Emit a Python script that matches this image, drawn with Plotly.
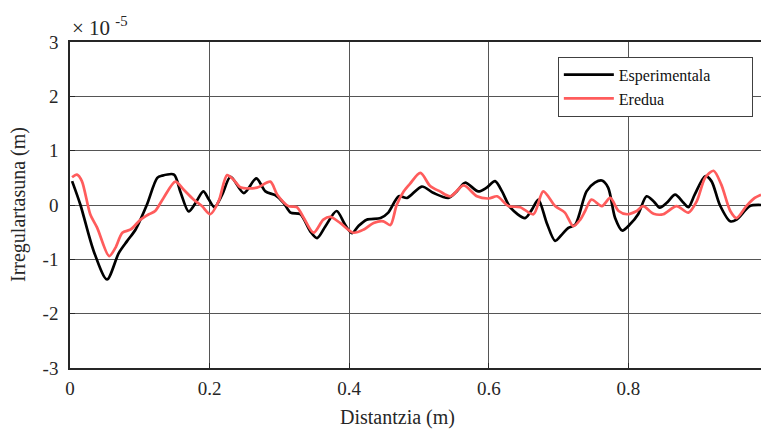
import plotly.graph_objects as go

# values in units of 1e-5 m
x_exp = [0.003, 0.015, 0.034, 0.053, 0.070, 0.082, 0.094, 0.110, 0.125, 0.132, 0.149, 0.158, 0.170, 0.180,
         0.191, 0.199, 0.207, 0.218, 0.230, 0.249, 0.267, 0.280, 0.294, 0.306, 0.316, 0.330, 0.344, 0.354,
         0.366, 0.382, 0.394, 0.404, 0.413, 0.425, 0.445, 0.456, 0.471, 0.483, 0.504, 0.521, 0.542, 0.554,
         0.566, 0.585, 0.597, 0.609, 0.619, 0.631, 0.652, 0.662, 0.671, 0.683, 0.695, 0.705, 0.714, 0.724,
         0.740, 0.752, 0.762, 0.771, 0.781, 0.791, 0.802, 0.814, 0.826, 0.836, 0.845, 0.855, 0.867, 0.879,
         0.886, 0.895, 0.910, 0.919, 0.931, 0.946, 0.955, 0.974, 0.990]
y_exp = [0.44, 0.00, -0.85, -1.37, -0.88, -0.66, -0.45, 0.00, 0.50, 0.54, 0.56, 0.25, -0.12, 0.04,
         0.25, 0.10, -0.04, 0.19, 0.52, 0.22, 0.49, 0.25, 0.18, 0.04, -0.14, -0.17, -0.48, -0.61,
         -0.39, -0.11, -0.36, -0.52, -0.39, -0.27, -0.24, -0.14, 0.16, 0.13, 0.34, 0.22, 0.13, 0.25,
         0.41, 0.25, 0.32, 0.44, 0.25, -0.05, -0.24, -0.08, 0.10, -0.33, -0.66, -0.54, -0.42, -0.36,
         0.25, 0.41, 0.45, 0.32, -0.24, -0.47, -0.36, -0.17, 0.16, 0.07, -0.05, 0.04, 0.19, 0.04,
         -0.04, 0.19, 0.53, 0.44, 0.00, -0.30, -0.27, -0.02, 0.00]

x_her = [0.003, 0.010, 0.017, 0.029, 0.039, 0.056, 0.065, 0.075, 0.087, 0.101, 0.113, 0.122, 0.134,
         0.151, 0.163, 0.177, 0.189, 0.201, 0.213, 0.225, 0.234, 0.245, 0.268, 0.287, 0.297, 0.313,
         0.325, 0.335, 0.349, 0.363, 0.373, 0.387, 0.406, 0.421, 0.435, 0.449, 0.459, 0.468, 0.478,
         0.487, 0.502, 0.516, 0.530, 0.545, 0.564, 0.583, 0.600, 0.612, 0.628, 0.645, 0.664, 0.678,
         0.695, 0.709, 0.721, 0.731, 0.738, 0.747, 0.762, 0.774, 0.786, 0.798, 0.812, 0.821, 0.836,
         0.850, 0.869, 0.886, 0.898, 0.910, 0.922, 0.933, 0.946, 0.955, 0.969, 0.981, 0.990]
y_her = [0.51, 0.56, 0.44, -0.17, -0.42, -0.94, -0.79, -0.51, -0.45, -0.27, -0.17, -0.11, 0.13,
         0.43, 0.28, 0.10, -0.02, -0.17, 0.07, 0.55, 0.47, 0.32, 0.32, 0.43, 0.19, -0.02,
         -0.04, -0.24, -0.51, -0.27, -0.22, -0.33, -0.51, -0.45, -0.33, -0.30, -0.37, 0.00, 0.25,
         0.39, 0.59, 0.35, 0.25, 0.16, 0.36, 0.16, 0.12, 0.16, -0.02, -0.04, -0.17, 0.25,
         -0.02, -0.14, -0.39, -0.27, -0.11, 0.10, -0.02, 0.13, -0.11, -0.17, -0.11, -0.02, -0.16,
         -0.17, -0.02, -0.14, 0.07, 0.50, 0.63, 0.38, -0.11, -0.24, -0.02, 0.13, 0.19]

x_ticks = [0, 0.2, 0.4, 0.6, 0.8]
x_labels = ["0", "0.2", "0.4", "0.6", "0.8"]
y_ticks = [-3, -2, -1, 0, 1, 2, 3]

FONT = "Liberation Serif"
TXT = "#262626"
PAD = "\u00a0" * 9

fig = go.Figure()
fig.add_trace(go.Scatter(x=x_exp, y=y_exp, mode="lines", name="Esperimentala" + PAD,
                         line=dict(color="black", width=2.7, shape="spline", smoothing=0.8)))
fig.add_trace(go.Scatter(x=x_her, y=y_her, mode="lines", name="Eredua",
                         line=dict(color="#ff5c5c", width=2.7, shape="spline", smoothing=0.8)))

fig.update_layout(
    width=761, height=431,
    margin=dict(l=70, r=0, t=42, b=63),
    plot_bgcolor="white", paper_bgcolor="white",
    font=dict(family=FONT, size=19, color=TXT),
    showlegend=True,
    legend=dict(x=0.706, y=0.955, xanchor="left", yanchor="top",
                bordercolor="#404040", borderwidth=1, bgcolor="white",
                font=dict(family=FONT, size=16, color="#111"),
                tracegroupgap=0, itemwidth=50),
    xaxis=dict(range=[0, 0.99], tickvals=x_ticks, ticktext=x_labels,
               showgrid=True, gridcolor="#555", gridwidth=1,
               showline=True, linecolor=TXT, linewidth=1.5, mirror=True,
               ticks="inside", ticklen=5, tickcolor=TXT, zeroline=False,
               ticklabelstandoff=2,
               tickfont=dict(family=FONT, size=19, color=TXT)),
    yaxis=dict(range=[-3, 3], tickvals=y_ticks, ticktext=[str(v) for v in y_ticks],
               showgrid=True, gridcolor="#555", gridwidth=1,
               showline=True, linecolor=TXT, linewidth=1.5,
               ticks="inside", ticklen=5, tickcolor=TXT, zeroline=False,
               ticklabelstandoff=6,
               tickfont=dict(family=FONT, size=19, color=TXT)),
)

fig.add_annotation(x=(397 - 70) / 691, y=-0.11, xref="paper", yref="paper",
                   text="Distantzia (m)", showarrow=False, xanchor="center", yanchor="top",
                   font=dict(family=FONT, size=20, color=TXT))
fig.add_annotation(x=(18 - 70) / 691, y=0.5, xref="paper", yref="paper",
                   text="Irregulartasuna (m)", showarrow=False, textangle=-90,
                   xanchor="center", yanchor="middle",
                   font=dict(family=FONT, size=20, color=TXT))
fig.add_annotation(x=(70 - 70) / 691, y=1.0, xref="paper", yref="paper",
                   text="× 10 <sup>-5</sup>", showarrow=False, xanchor="left", yanchor="bottom",
                   font=dict(family=FONT, size=21, color=TXT))

fig.write_html("out.html")
